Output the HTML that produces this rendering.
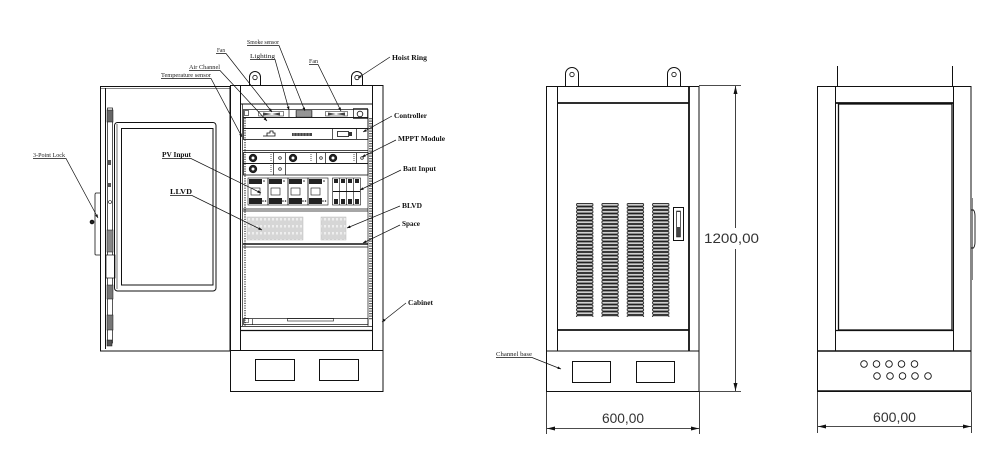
<!DOCTYPE html>
<html><head><meta charset="utf-8"><style>
html,body{margin:0;padding:0;background:#fff;}
svg{display:block;}
.s{font-family:"Liberation Serif",serif;font-size:6px;fill:#222;}
.b{font-family:"Liberation Serif",serif;font-size:7.5px;font-weight:bold;fill:#111;}
.d{font-family:"Liberation Sans","DejaVu Sans",sans-serif;font-size:14px;fill:#333;}
</style></head><body>
<svg width="990" height="456" viewBox="0 0 990 456" xmlns="http://www.w3.org/2000/svg">
<defs>
<marker id="ah" viewBox="0 0 10 10" refX="10" refY="5" markerWidth="5" markerHeight="5" orient="auto"><path d="M0,1 L10,5 L0,9 z" fill="#111"/></marker>
<marker id="da" viewBox="0 0 12 6" refX="12" refY="3" markerWidth="9" markerHeight="4" markerUnits="userSpaceOnUse" orient="auto"><path d="M0,0 L12,3 L0,6 z" fill="#111"/></marker>
<pattern id="slat" x="576" y="203" width="25.33" height="3.5" patternUnits="userSpaceOnUse"><rect x="0.5" y="0.4" width="16.5" height="2.7" rx="1.3" fill="#cfcfcf" stroke="#222" stroke-width="0.9"/></pattern>
<pattern id="grey" x="247" y="217" width="4" height="7" patternUnits="userSpaceOnUse"><rect width="4" height="7" fill="#d6d6d6"/><rect x="1" y="1" width="2" height="2.5" fill="#eee"/></pattern>
</defs>
<g fill="none" stroke="#111" stroke-width="1">
<!-- ===== LEFT CABINET: DOOR ===== -->
<rect x="100.5" y="86.5" width="129.5" height="264.5"/>
<line x1="105.5" y1="88" x2="105.5" y2="349"/>
<line x1="101" y1="88.5" x2="230" y2="88.5" stroke-width="0.6"/>
<rect x="107.5" y="108" width="5" height="235" stroke-width="0.7"/>
<rect x="107" y="110" width="6" height="12" fill="#666" stroke-width="0.5"/>
<rect x="108" y="160" width="3" height="5" fill="#555" stroke="none"/>
<rect x="108" y="183" width="3" height="4" fill="#555" stroke="none"/>
<circle cx="110" cy="202" r="1.5" stroke-width="0.6"/>
<rect x="107" y="230" width="6" height="22" fill="#888" stroke-width="0.5"/>
<rect x="106" y="255" width="9" height="23" fill="#fff" stroke-width="0.7"/>
<rect x="107" y="285" width="6" height="14" fill="#777" stroke-width="0.5"/>
<rect x="107" y="315" width="6" height="15" fill="#777" stroke-width="0.5"/>
<rect x="107" y="340" width="5" height="6" fill="#555" stroke-width="0.5"/>
<rect x="114.5" y="122.5" width="101.5" height="168.5" rx="3"/>
<rect x="121.5" y="128.5" width="91.5" height="156.5"/>
<line x1="117" y1="124" x2="117" y2="289" stroke-width="0.6"/>
<path d="M100,193 H96 Q95,193 95,195 V254 Q95,255 96,255 H100" stroke-width="0.8"/>
<circle cx="92" cy="222" r="1.8" fill="#222"/>
<!-- ===== LEFT CABINET: BODY ===== -->
<rect x="230.5" y="85.5" width="152.5" height="265"/>
<line x1="240.5" y1="85" x2="240.5" y2="350"/>
<line x1="372.5" y1="85" x2="372.5" y2="350"/>
<line x1="240" y1="104" x2="373" y2="104"/>
<line x1="242.5" y1="104" x2="242.5" y2="326" stroke-width="0.7"/>
<line x1="245" y1="118" x2="245" y2="326" stroke-width="1.5" stroke-dasharray="1.2 1.2" stroke="#555"/>
<line x1="368" y1="118" x2="368" y2="326" stroke-width="0.7"/>
<line x1="370.5" y1="118" x2="370.5" y2="320" stroke-width="3" stroke-dasharray="1.3 1.2" stroke="#666"/>
<!-- fan row -->
<rect x="243.5" y="109.5" width="124.5" height="8" stroke-width="0.7"/>
<rect x="244.5" y="110.5" width="4" height="5" stroke-width="0.6"/>
<rect x="258.5" y="111.5" width="25" height="4.5" stroke-width="0.5"/>
<path d="M263,112.5 L272,114 L263,115.5 z M280,112.5 L272,114 L280,115.5 z" fill="#444" stroke="none"/>
<line x1="289" y1="110" x2="289" y2="117" stroke-width="0.7"/>
<rect x="296" y="110.5" width="16" height="6.5" fill="#777" stroke-width="0.5"/>
<path d="M298,110.5V117M300,110.5V117M302,110.5V117M304,110.5V117M306,110.5V117M308,110.5V117M310,110.5V117" stroke="#ddd" stroke-width="0.6"/>
<rect x="325.5" y="111.5" width="22" height="4.5" stroke-width="0.5"/>
<path d="M328,112.5 L336,114 L328,115.5 z M345,112.5 L336,114 L345,115.5 z" fill="#444" stroke="none"/>
<rect x="353.5" y="108.5" width="14" height="10" stroke-width="0.7"/>
<circle cx="360" cy="114" r="2.8" stroke-width="0.8"/>
<!-- air channel + controller -->
<rect x="243.5" y="117.5" width="124.5" height="11" stroke-width="0.8"/>
<rect x="243.5" y="128.5" width="124.5" height="11" stroke-width="0.8"/>
<path d="M263,136 H267 V133 H270 V131 H273 V133 H275 V136 H263" stroke-width="0.8"/>
<rect x="292" y="133" width="20" height="3" fill="#444" stroke="none"/>
<path d="M294,133V136M297,133V136M300,133V136M303,133V136M306,133V136M309,133V136" stroke="#ccc" stroke-width="0.6"/>
<line x1="332.5" y1="129" x2="332.5" y2="139" stroke-width="0.7"/>
<rect x="337.5" y="131.5" width="11" height="5" stroke-width="0.8"/>
<rect x="349" y="132" width="3" height="4" fill="#333" stroke="none"/>
<line x1="356.5" y1="129" x2="356.5" y2="139" stroke-width="0.7"/>
<line x1="243" y1="150.5" x2="368" y2="150.5" stroke-width="0.8"/>
<!-- MPPT rows -->
<rect x="243.5" y="152.5" width="124.5" height="11" stroke-width="0.8"/>
<rect x="243.5" y="163.5" width="124.5" height="11.5" stroke-width="0.8"/>
<g stroke-width="0.7">
<circle cx="253" cy="158" r="3.8" fill="#222"/><circle cx="253" cy="158" r="1.5" fill="#fff" stroke="none"/>
<line x1="271" y1="154" x2="271" y2="162" stroke-dasharray="1 1"/><line x1="273.5" y1="153" x2="273.5" y2="163"/>
<circle cx="280" cy="158" r="1.3"/><line x1="285.5" y1="153" x2="285.5" y2="163"/>
<circle cx="293" cy="158" r="3.8" fill="#222"/><circle cx="293" cy="158" r="1.5" fill="#fff" stroke="none"/>
<line x1="311" y1="154" x2="311" y2="162" stroke-dasharray="1 1"/><line x1="316.5" y1="153" x2="316.5" y2="163"/>
<circle cx="321" cy="158" r="1.3"/><line x1="325.5" y1="153" x2="325.5" y2="163"/>
<circle cx="333" cy="158" r="3.8" fill="#222"/><circle cx="333" cy="158" r="1.5" fill="#fff" stroke="none"/>
<line x1="354" y1="154" x2="354" y2="162" stroke-dasharray="1 1"/><line x1="356.5" y1="153" x2="356.5" y2="163"/>
<circle cx="362" cy="158" r="1.3"/>
<circle cx="253" cy="169" r="3.8" fill="#222"/><circle cx="253" cy="169" r="1.5" fill="#fff" stroke="none"/>
<line x1="271" y1="165" x2="271" y2="173" stroke-dasharray="1 1"/><line x1="273.5" y1="164" x2="273.5" y2="175"/>
<circle cx="280" cy="169" r="1.3"/><line x1="285.5" y1="164" x2="285.5" y2="175"/>
</g>
<!-- breakers -->
<g stroke-width="0.6">
<rect x="248" y="178" width="20" height="27"/><rect x="268" y="178" width="20" height="27"/><rect x="288" y="178" width="20" height="27"/><rect x="308" y="178" width="20" height="27"/>
<g fill="#222" stroke="none">
<rect x="249" y="179" width="13" height="5"/><rect x="249" y="198" width="13" height="6"/>
<rect x="269" y="179" width="13" height="5"/><rect x="269" y="198" width="13" height="6"/>
<rect x="289" y="179" width="13" height="5"/><rect x="289" y="198" width="13" height="6"/>
<rect x="309" y="179" width="13" height="5"/><rect x="309" y="198" width="13" height="6"/>
<circle cx="264" cy="181" r="0.8"/><circle cx="263" cy="201" r="0.8"/><circle cx="265.5" cy="201" r="0.8"/>
<circle cx="284" cy="181" r="0.8"/><circle cx="283" cy="201" r="0.8"/><circle cx="285.5" cy="201" r="0.8"/>
<circle cx="304" cy="181" r="0.8"/><circle cx="303" cy="201" r="0.8"/><circle cx="305.5" cy="201" r="0.8"/>
<circle cx="324" cy="181" r="0.8"/><circle cx="323" cy="201" r="0.8"/><circle cx="325.5" cy="201" r="0.8"/>
</g>
<rect x="251" y="188" width="9" height="7"/><rect x="271" y="188" width="9" height="7"/><rect x="291" y="188" width="9" height="7"/><rect x="311" y="188" width="9" height="7"/>
<rect x="332.5" y="178" width="28" height="27"/>
<path d="M339.5,178V205M346.5,178V205M353.5,178V205"/>
<g fill="#222" stroke="none">
<rect x="334" y="179" width="4" height="4"/><rect x="341" y="179" width="4" height="4"/><rect x="348" y="179" width="4" height="4"/><rect x="355" y="179" width="4" height="4"/>
<rect x="334" y="199" width="4" height="5"/><rect x="341" y="199" width="4" height="5"/><rect x="348" y="199" width="4" height="5"/><rect x="355" y="199" width="4" height="5"/>
</g>
<line x1="333" y1="191.5" x2="360" y2="191.5" stroke-width="1"/>
</g>
<line x1="243" y1="209" x2="368" y2="209" stroke-width="0.7"/>
<line x1="243" y1="211" x2="368" y2="211" stroke-width="0.7"/>
<!-- LVD blocks -->
<rect x="247" y="217" width="56" height="23" fill="url(#grey)" stroke="#bbb" stroke-width="0.5"/>
<rect x="321" y="217" width="25" height="23" fill="url(#grey)" stroke="#bbb" stroke-width="0.5"/>
<line x1="243" y1="244" x2="368" y2="244" stroke-width="1.5"/>
<line x1="243" y1="247" x2="368" y2="247" stroke-width="0.7"/>
<!-- lower -->
<rect x="243.5" y="318.5" width="124.5" height="6" stroke-width="0.7"/>
<rect x="244.5" y="318.5" width="4" height="4" stroke-width="0.5"/>
<line x1="252.5" y1="319" x2="252.5" y2="325" stroke-width="0.6"/>
<rect x="287.5" y="318.5" width="46" height="2.5" stroke-width="0.6"/>
<line x1="240" y1="326.5" x2="373" y2="326.5" stroke-width="0.8"/>
<line x1="240" y1="330.5" x2="373" y2="330.5" stroke-width="1.3"/>
<!-- base -->
<rect x="230.5" y="350.5" width="152.5" height="41"/>
<rect x="255.5" y="359.5" width="39" height="21"/>
<rect x="319.5" y="359.5" width="39" height="21"/>
<!-- hoist rings -->
<path d="M249.5,85 V77 A5.5,5.5 0 0 1 260.5,77 V85"/><circle cx="255" cy="77.5" r="2.2" stroke-width="0.8"/>
<path d="M351.5,85 V77 A5.5,5.5 0 0 1 362.5,77 V85"/><circle cx="357" cy="77.5" r="2.2" stroke-width="0.8"/>

<!-- ===== MIDDLE CABINET ===== -->
<path d="M565.5,86 V74 A6.5,6.5 0 0 1 578.5,74 V86"/><circle cx="572" cy="74.5" r="2.2" stroke-width="0.8"/>
<path d="M667.5,86 V74 A6.5,6.5 0 0 1 680.5,74 V86"/><circle cx="674" cy="74.5" r="2.2" stroke-width="0.8"/>
<rect x="546.5" y="86.5" width="152.5" height="264.5"/>
<line x1="557.5" y1="86" x2="557.5" y2="351"/>
<line x1="689" y1="86" x2="689" y2="351" stroke-width="1.8"/>
<line x1="557" y1="103" x2="689" y2="103" stroke-width="1.8"/>
<line x1="557" y1="330" x2="689" y2="330" stroke-width="1.8"/>
<rect x="576" y="203" width="93.5" height="114" fill="url(#slat)" stroke="none"/>
<rect x="673.5" y="207.5" width="10" height="33" stroke-width="1"/>
<rect x="676.5" y="211" width="4" height="26" fill="#444" stroke-width="0.5"/>
<rect x="677" y="212" width="3" height="15" fill="#fff" stroke="none"/>
<rect x="546.5" y="351" width="152.5" height="40.5"/>
<rect x="572.5" y="361.5" width="38" height="21"/>
<rect x="636.5" y="361.5" width="38" height="21"/>
<!-- dims middle -->
<g stroke-width="0.8">
<line x1="699" y1="85.5" x2="741" y2="85.5"/>
<line x1="699" y1="391.5" x2="741" y2="391.5"/>
<line x1="735.5" y1="228" x2="735.5" y2="86" marker-end="url(#da)"/>
<line x1="735.5" y1="249" x2="735.5" y2="391" marker-end="url(#da)"/>
<line x1="546.5" y1="392" x2="546.5" y2="434"/>
<line x1="699.5" y1="392" x2="699.5" y2="434"/>
<line x1="622" y1="428.5" x2="547" y2="428.5" marker-end="url(#da)"/>
<line x1="622" y1="428.5" x2="699" y2="428.5" marker-end="url(#da)"/>
</g>

<!-- ===== RIGHT CABINET ===== -->
<line x1="837.5" y1="66" x2="837.5" y2="86"/>
<line x1="952.5" y1="66" x2="952.5" y2="86"/>
<rect x="817.5" y="86.5" width="153.5" height="305"/>
<line x1="835.5" y1="86" x2="835.5" y2="351"/>
<line x1="953.5" y1="86" x2="953.5" y2="351"/>
<line x1="835" y1="103" x2="954" y2="103" stroke-width="1.8"/>
<rect x="838.5" y="104" width="113.5" height="226" stroke-width="1.3"/>
<line x1="835" y1="330.5" x2="954" y2="330.5" stroke-width="1.3"/>
<line x1="817" y1="351" x2="971" y2="351" stroke-width="1.6"/>
<line x1="817" y1="391" x2="971" y2="391" stroke-width="1.6"/>
<path d="M971.5,210 H973.5 Q975,212 975,216 V242 Q975,246 973.5,248 H971.5" stroke-width="0.9"/>
<line x1="972.5" y1="198" x2="972.5" y2="280" stroke-width="0.5"/>
<g stroke-width="0.9">
<circle cx="864" cy="364" r="3.3"/><circle cx="876.5" cy="364" r="3.3"/><circle cx="889" cy="364" r="3.3"/><circle cx="901.5" cy="364" r="3.3"/><circle cx="914.5" cy="364" r="3.3"/>
<circle cx="877" cy="376" r="3.3"/><circle cx="890" cy="376" r="3.3"/><circle cx="902.5" cy="376" r="3.3"/><circle cx="915" cy="376" r="3.3"/><circle cx="928" cy="376" r="3.3"/>
</g>
<g stroke-width="0.8">
<line x1="817.5" y1="392" x2="817.5" y2="433"/>
<line x1="971.5" y1="392" x2="971.5" y2="433"/>
<line x1="894" y1="426.5" x2="818" y2="426.5" marker-end="url(#da)"/>
<line x1="894" y1="426.5" x2="971" y2="426.5" marker-end="url(#da)"/>
</g>

<!-- ===== LEADERS ===== -->
<g stroke-width="0.7">
<path d="M247,45.5 H279 L305,111" marker-end="url(#ah)"/>
<path d="M216,53.5 H226 L272,112" marker-end="url(#ah)"/>
<path d="M250,59.5 H275 L289,110" marker-end="url(#ah)"/>
<path d="M309,64.5 H318 L341,111" marker-end="url(#ah)"/>
<path d="M189,70.5 H220 L267,121" marker-end="url(#ah)"/>
<path d="M161,78.5 H211 L242,137" marker-end="url(#ah)"/>
<path d="M33,158.5 H66 L98,218" marker-end="url(#ah)"/>
<path d="M496,357.5 H532 L561,369" marker-end="url(#ah)"/>
<path d="M390,57 L358,78" marker-end="url(#ah)"/>
<path d="M392,116 L363,132" marker-end="url(#ah)"/>
<path d="M396,140 L362,157" marker-end="url(#ah)"/>
<path d="M162,158.5 H191 L261,193" marker-end="url(#ah)"/>
<path d="M170,195.5 H192 L262,230" marker-end="url(#ah)"/>
<path d="M401,170 L360,190" marker-end="url(#ah)"/>
<path d="M400,206 L347,228" marker-end="url(#ah)"/>
<path d="M400,225 L363,243" marker-end="url(#ah)"/>
<path d="M406,303 L382,322" marker-end="url(#ah)"/>
</g>
</g>

<!-- ===== TEXT ===== -->
<text class="s" x="247" y="44" textLength="32" lengthAdjust="spacingAndGlyphs">Smoke sensor</text>
<text class="s" x="217" y="52" textLength="8" lengthAdjust="spacingAndGlyphs">Fan</text>
<text class="s" x="250" y="58" textLength="25" lengthAdjust="spacingAndGlyphs">Lighting</text>
<text class="s" x="309" y="63" textLength="9" lengthAdjust="spacingAndGlyphs">Fan</text>
<text class="s" x="189" y="69" textLength="31" lengthAdjust="spacingAndGlyphs">Air Channel</text>
<text class="s" x="161" y="77" textLength="50" lengthAdjust="spacingAndGlyphs">Temperature sensor</text>
<text class="s" x="33" y="157" textLength="32" lengthAdjust="spacingAndGlyphs">3-Point Lock</text>
<text class="s" x="496" y="356" textLength="36" lengthAdjust="spacingAndGlyphs">Channel base</text>
<text class="b" x="392" y="60" textLength="35" lengthAdjust="spacingAndGlyphs">Hoist Ring</text>
<text class="b" x="394" y="118" textLength="33" lengthAdjust="spacingAndGlyphs">Controller</text>
<text class="b" x="398" y="141" textLength="47" lengthAdjust="spacingAndGlyphs">MPPT Module</text>
<text class="b" x="162" y="157" textLength="29" lengthAdjust="spacingAndGlyphs">PV Input</text>
<text class="b" x="170" y="194" textLength="22" lengthAdjust="spacingAndGlyphs">LLVD</text>
<text class="b" x="403" y="171" textLength="33" lengthAdjust="spacingAndGlyphs">Batt Input</text>
<text class="b" x="402" y="208" textLength="20" lengthAdjust="spacingAndGlyphs">BLVD</text>
<text class="b" x="402" y="226" textLength="18" lengthAdjust="spacingAndGlyphs">Space</text>
<text class="b" x="408" y="305" textLength="25" lengthAdjust="spacingAndGlyphs">Cabinet</text>
<text class="d" x="704" y="243" textLength="55" lengthAdjust="spacingAndGlyphs">1200,00</text>
<text class="d" x="602" y="423" textLength="42" lengthAdjust="spacingAndGlyphs">600,00</text>
<text class="d" x="873" y="422" textLength="43" lengthAdjust="spacingAndGlyphs">600,00</text>
</svg>
</body></html>
